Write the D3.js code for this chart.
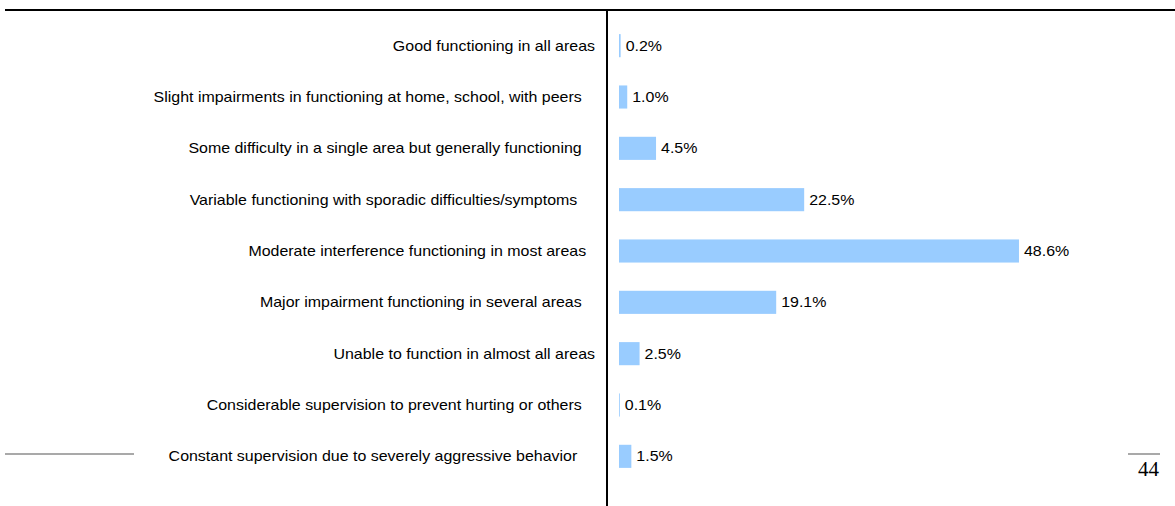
<!DOCTYPE html>
<html lang="en">
<head>
    <meta charset="UTF-8">
    <title>Functioning levels</title>
    <script src="https://d3js.org/d3.v7.min.js"></script>
    <style>
        body { margin: 0; background: #fff; }
        .label, .value {
            font-family: "Liberation Sans", Arial, sans-serif;
            font-size: 14px;
            fill: #000;
            white-space: pre;
        }
        .page {
            font-family: "Liberation Serif", "Times New Roman", serif;
            font-size: 21px;
            fill: #000;
        }
    </style>
</head>
<body>
    <svg width="1175" height="506"></svg>

    <script>
        // labels keep the trailing spaces of the original slide
        var categories = [
            "Good functioning in all areas",
            "Slight impairments in functioning at home, school, with peers   ",
            "Some difficulty in a single area but generally functioning   ",
            "Variable functioning with sporadic difficulties/symptoms    ",
            "Moderate interference functioning in most areas  ",
            "Major impairment functioning in several areas   ",
            "Unable to function in almost all areas",
            "Considerable supervision to prevent hurting or others   ",
            "Constant supervision due to severely aggressive behavior    "
        ];
        var values = [0.2, 1.0, 4.5, 22.5, 48.6, 19.1, 2.5, 0.1, 1.5];
        var pageNumber = "44";

        var svg = d3.select("svg");

        var axisX = 607,
            labelX = 595,
            stretch = 1.14;   // slide text is rendered a bit wide

        var x = d3.scaleLinear().domain([0, 50]).range([619, 619 + 50 * 8.23]);
        var y = d3.scaleBand()
                  .domain(categories)
                  .range([20, 482])
                  .paddingInner(0.55)
                  .paddingOuter(0.275);

        function place(px, py) {
            return "translate(" + px + "," + py + ") scale(" + stretch + ",1)";
        }

        // frame lines
        svg.append("line")
           .attr("x1", 5).attr("x2", 1175)
           .attr("y1", 10).attr("y2", 10)
           .attr("stroke", "#000").attr("stroke-width", 2);

        svg.append("line")
           .attr("x1", axisX).attr("x2", axisX)
           .attr("y1", 10).attr("y2", 506)
           .attr("stroke", "#000").attr("stroke-width", 2);

        // bars
        svg.selectAll(".bar")
           .data(values)
           .enter().append("rect")
           .attr("class", "bar")
           .attr("x", x(0))
           .attr("y", function(d, i) { return y(categories[i]); })
           .attr("width", function(d) { return x(d) - x(0); })
           .attr("height", y.bandwidth())
           .attr("fill", "#99ccff");

        // category labels
        svg.selectAll(".label")
           .data(categories)
           .enter().append("text")
           .attr("class", "label")
           .attr("transform", function(d) { return place(labelX, y(d) + y.bandwidth() / 2); })
           .attr("dy", "0.35em")
           .attr("text-anchor", "end")
           .text(function(d) { return d; });

        // value labels
        svg.selectAll(".value")
           .data(values)
           .enter().append("text")
           .attr("class", "value")
           .attr("transform", function(d, i) {
               return place(x(d) + 5, y(categories[i]) + y.bandwidth() / 2);
           })
           .attr("dy", "0.35em")
           .text(function(d) { return d.toFixed(1) + "%"; });

        // footnote rule and page number
        svg.append("line")
           .attr("x1", 5).attr("x2", 134)
           .attr("y1", 454).attr("y2", 454)
           .attr("stroke", "#8c8c8c").attr("stroke-width", 1.5);

        svg.append("line")
           .attr("x1", 1128).attr("x2", 1160)
           .attr("y1", 454).attr("y2", 454)
           .attr("stroke", "#8c8c8c").attr("stroke-width", 1.5);

        svg.append("text")
           .attr("class", "page")
           .attr("x", 1159)
           .attr("y", 476)
           .attr("text-anchor", "end")
           .text(pageNumber);
    </script>
</body>
</html>
